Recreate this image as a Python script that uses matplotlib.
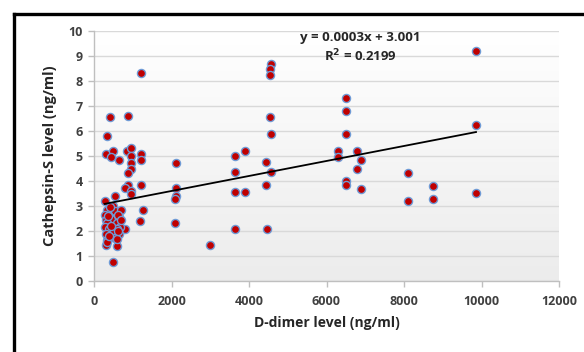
"""
Scatter of cathepsin-S vs D-dimer with linear trendline
"""

import numpy as np
import matplotlib
matplotlib.use("Agg")
import matplotlib.pyplot as plt
from matplotlib.lines import Line2D

plt.rcParams["font.family"] = ["Open Sans", "DejaVu Sans"]

# D-dimer (ng/ml) and cathepsin-S (ng/ml)
ddimer = [
    327, 421, 310, 482, 450, 636, 877, 843, 946, 946, 946, 946, 877, 1221, 1221, 1221,
    2116, 3647, 3647, 3888, 4560, 4542, 4542, 4542, 4576, 4439, 4576, 9858, 6503, 6503,
    6503, 6297, 6297, 6779, 6899, 6779, 8103, 9858, 6503, 6503, 6899, 8757, 8757, 8103,
    9858,
    3647, 3888, 4439, 3647, 4456, 2994, 2082, 2116, 2116, 2082, 1187, 1273, 1221, 877,
    792, 946, 946, 792, 482, 585,
    292, 550, 482, 327, 550, 688, 275, 300, 430, 654, 327, 585, 671, 275, 396, 533, 602,
    310, 482, 654, 498, 344, 550, 585, 310, 327, 400, 620, 360, 700, 450, 380, 620,
]
cathepsin = [
    5.80, 6.57, 5.09, 5.19, 4.95, 4.86, 6.61, 5.19, 5.34, 5.02, 4.73, 4.49, 4.31, 8.32, 5.10, 4.86,
    4.73, 5.00, 4.35, 5.19, 8.69, 8.47, 8.23, 6.57, 5.88, 4.77, 4.36, 9.20, 7.31, 6.80,
    5.88, 5.19, 4.97, 5.19, 4.85, 4.49, 4.32, 6.24, 4.01, 3.84, 3.67, 3.80, 3.28, 3.20,
    3.53,
    3.56, 3.56, 3.84, 2.09, 2.09, 1.45, 2.33, 3.73, 3.40, 3.29, 2.41, 2.84, 3.85, 3.86,
    3.71, 3.59, 3.50, 2.09, 0.76, 1.41,
    3.21, 3.40, 3.00, 2.84, 2.80, 2.84, 2.65, 2.45, 2.49, 2.56, 2.31, 2.33, 2.15, 2.17, 2.07, 2.09, 2.09,
    1.88, 1.88, 1.88, 1.91, 1.64, 1.72, 1.69, 1.45, 1.55, 2.95, 2.65, 2.60, 2.45, 2.20, 1.80, 2.00,
]

# trendline as printed on the chart
slope = 0.0003
intercept = 3.001
r_squared = 0.2199

x_ticks = [0, 2000, 4000, 6000, 8000, 10000, 12000]
y_ticks = list(range(0, 11))

fig = plt.figure(figsize=(5.84, 3.52), dpi=100)
ax = fig.add_axes([94 / 584, 1 - 281 / 352, 465 / 584, 250 / 352])

# soft white-to-light-grey gradient in the plot area
shade = np.linspace(1.0, 0.925, 256).reshape(-1, 1, 1) * np.ones((1, 1, 3))
ax.imshow(shade, extent=[0, 12000, 0, 10], aspect="auto", zorder=0, origin="upper")

ax.set_xlim(0, 12000)
ax.set_ylim(0, 10)
ax.set_xticks(x_ticks)
ax.set_yticks(y_ticks)
ax.grid(axis="y", color="#d9d9d9", linewidth=1.0, zorder=1)

for s in ["top", "right"]:
    ax.spines[s].set_visible(False)
for s in ["left", "bottom"]:
    ax.spines[s].set_color("#bfbfbf")
    ax.spines[s].set_linewidth(1.0)

ax.tick_params(axis="both", colors="#bfbfbf", length=4, width=1,
               labelcolor="#404040", labelsize=9)
for lbl in ax.get_xticklabels() + ax.get_yticklabels():
    lbl.set_fontweight("bold")
ax.tick_params(axis="x", pad=6)
ax.tick_params(axis="y", pad=4)

ax.scatter(ddimer, cathepsin, s=34, c="#c00000", edgecolors="#6f9bd6",
           linewidths=1.0, zorder=3)

xs = np.array([min(ddimer), max(ddimer)])
ax.plot(xs, slope * xs + intercept, color="black", linewidth=1.3, zorder=4)

ax.text(6865, 9.72, f"y = {slope:.4f}x + {intercept:.3f}", ha="center", va="center",
        fontsize=9.5, fontweight="bold", color="#262626", zorder=5)
ax.text(6865, 9.0, f"R$^\\mathbf{{2}}$ = {r_squared:.4f}", ha="center", va="center",
        fontsize=9.5, fontweight="bold", color="#262626", zorder=5)

ax.set_xlabel("D-dimer level (ng/ml)", fontsize=10, fontweight="bold",
              color="#262626", labelpad=6)
ax.set_ylabel("Cathepsin-S level (ng/ml)", fontsize=10.5, fontweight="bold",
              color="#262626", labelpad=8)

# thick outer frame (only left and top are visible in the crop)
fx = 13.5 / 584
fy = 1 - 14 / 352
fig.add_artist(Line2D([fx, fx], [-0.1, fy], transform=fig.transFigure,
                      color="black", linewidth=2.4, solid_capstyle="projecting"))
fig.add_artist(Line2D([fx, 1.1], [fy, fy], transform=fig.transFigure,
                      color="black", linewidth=2.4, solid_capstyle="projecting"))

fig.savefig("out.png", dpi=100)
